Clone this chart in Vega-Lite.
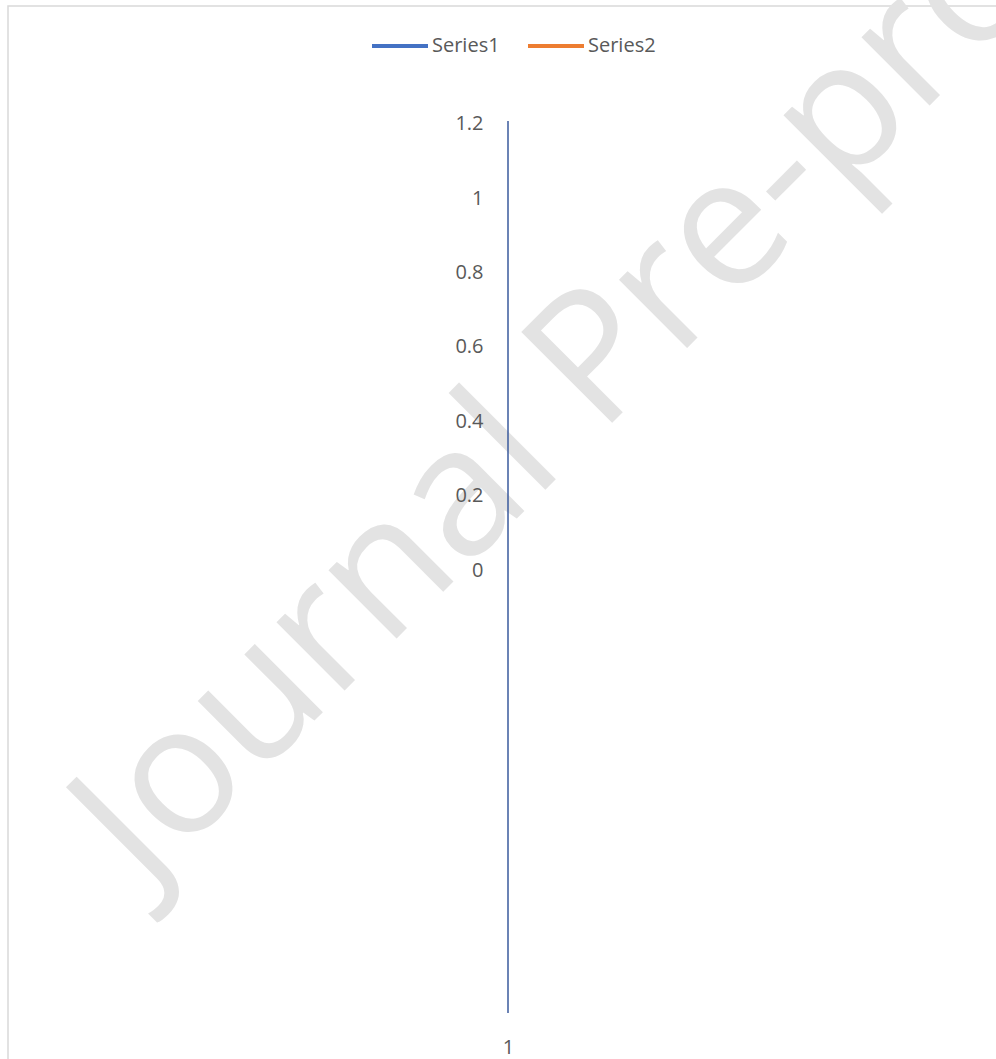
{
  "$schema": "https://vega.github.io/schema/vega-lite/v6.json",
  "width": 990,
  "height": 1055,
  "autosize": "none",
  "padding": {"left": 8, "top": 6, "right": -2, "bottom": -2},
  "background": "white",
  "config": {
    "view": {"stroke": "#d9d9d9", "strokeWidth": 1.5},
    "font": "Open Sans"
  },
  "datasets": {
    "watermark": [{"label": "Journal Pre-proof"}],
    "axisline": [{"category": 1, "from": -1.2, "to": 1.2}],
    "series": [
      {"series": "Series1", "category": 1, "value": 0},
      {"series": "Series2", "category": 1, "value": 0}
    ]
  },
  "layer": [
    {
      "data": {"name": "watermark"},
      "mark": {
        "type": "text", "angle": -45, "align": "left", "baseline": "alphabetic",
        "font": "Open Sans", "fontSize": 180, "color": "#e3e3e3"
      },
      "encoding": {
        "x": {"datum": 0.274, "type": "quantitative"},
        "y": {"datum": -0.869, "type": "quantitative"},
        "text": {"field": "label"}
      }
    },
    {
      "data": {"name": "axisline"},
      "mark": {"type": "rule", "color": "#3a5a9c", "strokeWidth": 1.5},
      "encoding": {
        "x": {
          "field": "category", "type": "quantitative",
          "scale": {"domain": [0, 1.98], "nice": false, "zero": false},
          "axis": {
            "values": [1], "format": "~g", "domain": false, "ticks": false, "grid": false,
            "title": null, "offset": -14, "labelPadding": 0, "labelBaseline": "middle", "zindex": 1,
            "labelFont": "Open Sans", "labelFontSize": 20, "labelColor": "#595959"
          }
        },
        "y": {
          "field": "from", "type": "quantitative",
          "scale": {"domain": [-1.3290, 1.5093], "nice": false, "zero": false},
          "axis": {
            "values": [0, 0.2, 0.4, 0.6, 0.8, 1, 1.2], "format": "~g", "domain": false, "ticks": false,
            "grid": false, "title": null, "offset": -500, "labelPadding": 25, "labelOffset": 3, "zindex": 1,
            "labelFont": "Open Sans", "labelFontSize": 20, "labelColor": "#595959"
          }
        },
        "y2": {"field": "to"}
      }
    },
    {
      "data": {"name": "series"},
      "mark": {"type": "line", "strokeWidth": 4},
      "encoding": {
        "x": {"field": "category", "type": "quantitative"},
        "y": {"field": "value", "type": "quantitative"},
        "color": {
          "field": "series", "type": "nominal",
          "scale": {"domain": ["Series1", "Series2"], "range": ["#4472c4", "#ed7d31"]},
          "legend": {
            "orient": "none", "legendX": 362, "legendY": 10, "direction": "horizontal", "title": null,
            "symbolType": "stroke", "symbolSize": 3136, "symbolStrokeWidth": 4,
            "labelFont": "Open Sans", "labelFontSize": 20, "labelColor": "#595959",
            "labelOffset": 2, "columnPadding": 20
          }
        }
      }
    }
  ]
}
